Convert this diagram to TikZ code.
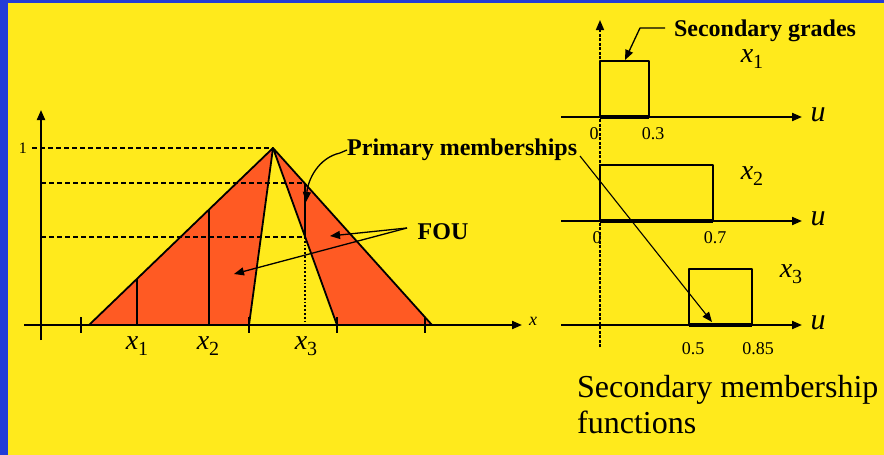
\documentclass[tikz,border=0pt]{standalone}
\usepackage{fontspec}
\setmainfont{Liberation Serif}
\usetikzlibrary{arrows.meta}
\definecolor{slideyellow}{RGB}{255,234,28}
\definecolor{fouorange}{RGB}{255,90,35}
\definecolor{slideblue}{RGB}{35,60,215}
\newcommand{\fs}[1]{\fontsize{#1}{#1}\selectfont}
\newcommand{\xsub}[1]{\textit{x}\raisebox{-6pt}{\fs{20}#1}}
\tikzset{
  lbl/.style={inner sep=0pt},
  bigbold/.style={inner sep=0pt,font=\bfseries\fs{24}},
  tick/.style={font=\fs{18},inner sep=0pt},
  ax/.style={line width=2pt,->},
  edge/.style={line width=1.8pt},
  gradebox/.style={line width=1.6pt},
  support/.style={line width=4pt,line cap=butt}
}
\begin{document}
\begin{tikzpicture}[x=1pt,y=-1pt,>={Triangle[length=10pt,width=8pt]},line join=round]
  \fill[slideblue] (0,0) rectangle (884,455);
  \fill[slideyellow] (8,3) rectangle (884,455);
  \useasboundingbox (0,0) rectangle (884,455);
  % FOU
  \fill[fouorange] (89,325) -- (273,148) -- (249,325) -- cycle;
  \fill[fouorange] (273,148) -- (337,325) -- (432,325) -- cycle;
  \draw[edge,dashed,dash pattern=on 5pt off 3pt] (32,148) -- (273,148);
  \draw[edge,dashed,dash pattern=on 5pt off 3pt] (41,183) -- (305,183);
  \draw[edge,dashed,dash pattern=on 5pt off 3pt] (41,237) -- (305,237);
  \draw[ax] (41,340) -- (41,110);
  \draw[ax] (24,325) -- (522,325);
  \node[lbl,font=\itshape\fs{18}] (xlab) at (533,321) {x};
  \node[lbl,font=\fs{16}] (one) at (23,148) {1};
  \foreach \t in {81,249,337,425}
    \draw[edge] (\t,317) -- (\t,333);
  \draw[edge] (89,325) -- (273,148) -- (249,325);
  \draw[edge] (337,325) -- (273,148) -- (432,325);
  \draw[edge] (137,325) -- (137,279);
  \draw[edge] (209,325) -- (209,210);
  \draw[edge] (305,183) -- (305,237);
  \draw[edge,dotted] (305,237) -- (305,325);
  \node[lbl,font=\fs{28}] (px1) at (137,346) {\xsub{1}};
  \node[lbl,font=\fs{28}] (px2) at (208,346) {\xsub{2}};
  \node[lbl,font=\fs{28}] (px3) at (306,346) {\xsub{3}};
  % labels and pointers
  \node[bigbold,anchor=west] (primary) at (347,150) {Primary memberships};
  \coordinate (pmtip) at (306,202);
  \draw[line width=1.3pt,->] (primary.west) -- (340,153) .. controls (318,158) and (308,180) .. (pmtip);
  \coordinate (u3tip) at (712,322);
  \draw[line width=1.1pt,->] (580,156) -- (u3tip);
  \node[bigbold] (fou) at (443,232) {FOU};
  \coordinate (fouleft) at (407,228);
  \coordinate (fouA) at (330,236);
  \coordinate (fouB) at (234,274);
  \draw[line width=1.3pt,->] (fouleft) -- (fouA);
  \draw[line width=1.3pt,->] (fouleft) -- (fouB);
  % secondary MFs
  \draw[line width=1.6pt,dash pattern=on 3pt off 1.5pt,->] (600,347) -- (600,20);
  \foreach \y in {117,221,325}{
    \draw[ax] (561,\y) -- (802,\y);
    \node[lbl,font=\itshape\fs{30}] at (818,\y-2) {u};
  }
  \draw[gradebox] (600,117) rectangle (649,61);
  \draw[support] (600,117) -- (649,117);
  \draw[gradebox] (600,221) rectangle (713,165);
  \draw[support] (600,221) -- (713,221);
  \draw[gradebox] (689,325) rectangle (752,269);
  \draw[support] (689,325) -- (752,325);
  \node[tick] (a0) at (594,134) {0};
  \node[tick] (a3) at (653,134) {0.3};
  \node[tick] (b0) at (597,238) {0};
  \node[tick] (b7) at (715,238) {0.7};
  \node[tick] (c5) at (693,349) {0.5};
  \node[tick] (c85) at (758,349) {0.85};
  \node[lbl,font=\fs{28}] (sx1) at (752,59) {\xsub{1}};
  \node[lbl,font=\fs{28}] (sx2) at (752,176) {\xsub{2}};
  \node[lbl,font=\fs{28}] (sx3) at (791,274) {\xsub{3}};
  \node[bigbold] (grades) at (765,31) {Secondary grades};
  \coordinate (gtip) at (625,60);
  \draw[line width=1.3pt,->] (665,28) -- (640,28) -- (gtip);
  \node[anchor=base west,inner sep=0pt,align=left,font=\fs{32}] (smf) at (577,433)
    {Secondary membership\\[4pt]functions};
\end{tikzpicture}
\end{document}
